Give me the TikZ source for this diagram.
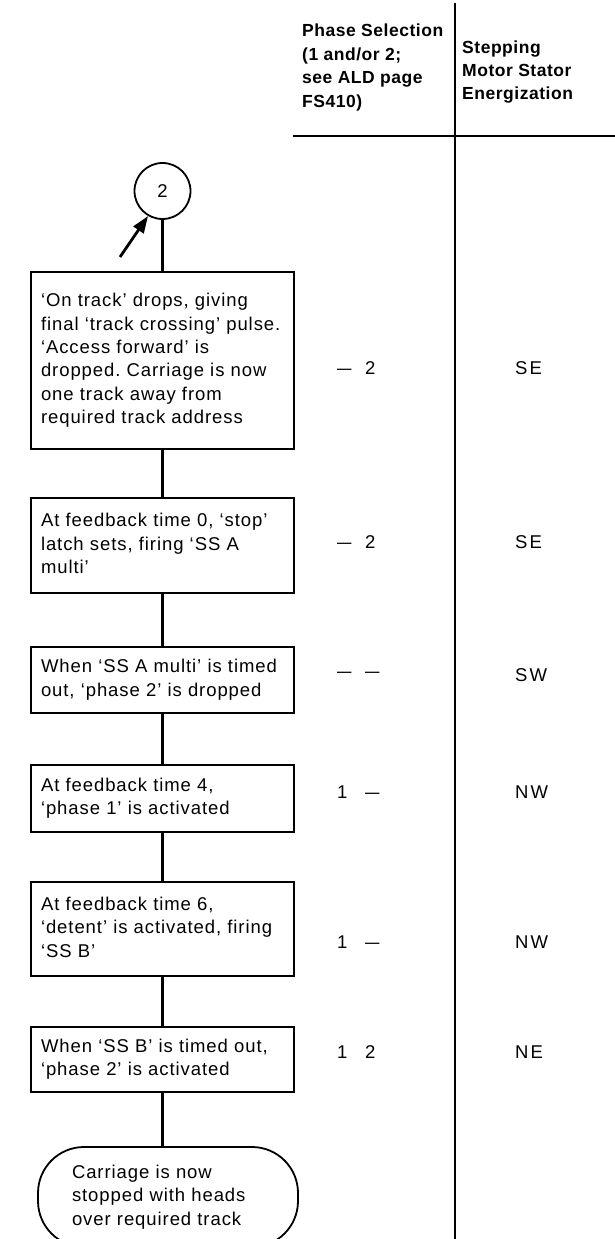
\documentclass[tikz,border=0pt]{standalone}
\usepackage{fontspec}
\setmainfont{Liberation Sans}[LetterSpace=5]
\newfontfamily\headfont{Liberation Sans}[LetterSpace=3]
\usetikzlibrary{arrows.meta}
\frenchspacing
\newcommand{\boxlines}[1]{\begin{tabular}[t]{@{}l@{}}#1\end{tabular}}
\newcommand{\pcol}[2]{\makebox[28pt][l]{#1}#2}
\newcommand{\dsh}{\scalebox{1.4}[1]{–}}
\begin{document}
\begin{tikzpicture}[x=1pt,y=-1pt,
  every node/.style={font=\fontsize{18.5}{23.4}\selectfont, inner sep=0pt},
  stepbox/.style={draw, line width=1.8pt, minimum width=263pt, text width=243pt, align=left, inner xsep=10pt},
  termbox/.style={draw, line width=1.8pt, rounded corners=46pt, minimum width=260pt, minimum height=100pt, text width=192pt, inner xsep=34pt, align=left},
  conn/.style={line width=2.8pt},
  rulel/.style={line width=1.5pt},
  val/.style={anchor=west, font=\fontsize{18.5}{20}\selectfont},
  head/.style={anchor=base west, font=\fontsize{17.5}{23.4}\selectfont\headfont\bfseries}
]
\clip (0,0) rectangle (615,1239);
\useasboundingbox (0,0) rectangle (615,1239);

% header
\node[head] (h1) at (302,37) {\boxlines{Phase Selection\\(1 and/or 2;\\see ALD page\\FS410)}};
\node[head] (h2) at (462,53) {\boxlines{Stepping\\Motor Stator\\Energization}};
\draw[rulel] (455,3) -- (455,1239);
\draw[line width=1.8pt] (293,136) -- (615,136);

% connector circle
\node[draw, circle, line width=1.8pt, minimum size=56pt] (c) at (162.5,191) {2};
\coordinate (tail) at (120,257);
\draw[conn, -{Triangle[length=17pt,width=12pt]}] (tail) -- (c.-120);

% boxes
\node[stepbox, minimum height=177pt] (b1) at (162.5,360.5) {\boxlines{‘On track’ drops, giving\\final ‘track crossing’ pulse.\\‘Access forward’ is\\dropped. Carriage is now\\one track away from\\required track address}};
\node[stepbox, minimum height=95pt] (b2) at (162.5,545.5) {\boxlines{At feedback time 0, ‘stop’\\latch sets, firing ‘SS A\\multi’}};
\node[stepbox, minimum height=66pt] (b3) at (162.5,680) {\boxlines{When ‘SS A multi’ is timed\\out, ‘phase 2’ is dropped}};
\node[stepbox, minimum height=67pt] (b4) at (162.5,798.5) {\boxlines{At feedback time 4,\\‘phase 1’ is activated}};
\node[stepbox, minimum height=94pt] (b5) at (162.5,929) {\boxlines{At feedback time 6,\\‘detent’ is activated, firing\\‘SS B’}};
\node[stepbox, minimum height=65pt] (b6) at (162.5,1059.5) {\boxlines{When ‘SS B’ is timed out,\\‘phase 2’ is activated}};
\node[termbox] (t) at (168,1197) {\boxlines{Carriage is now\\stopped with heads\\over required track}};

\draw[conn] (c.south) -- (b1.north);
\draw[conn] (b1.south) -- (b2.north);
\draw[conn] (b2.south) -- (b3.north);
\draw[conn] (b3.south) -- (b4.north);
\draw[conn] (b4.south) -- (b5.north);
\draw[conn] (b5.south) -- (b6.north);
\draw[conn] (b6.south) -- (b6.south |- t.north);

% phase selection column
\node[val] (p1) at (337,368) {\pcol{\dsh}{2}};
\node[val] (p2) at (337,542) {\pcol{\dsh}{2}};
\node[val] (p3) at (337,675) {\pcol{\dsh}{\dsh}};
\node[val] (p4) at (337,792) {\pcol{1}{\dsh}};
\node[val] (p5) at (337,942) {\pcol{1}{\dsh}};
\node[val] (p6) at (337,1052) {\pcol{1}{2}};

% stator column
\node[val] (s1) at (515,368) {S\kern2pt E};
\node[val] (s2) at (515,542) {S\kern2pt E};
\node[val] (s3) at (515,675) {S\kern2pt W};
\node[val] (s4) at (515,792) {N\kern2pt W};
\node[val] (s5) at (515,942) {N\kern2pt W};
\node[val] (s6) at (515,1052) {N\kern2pt E};
\end{tikzpicture}
\end{document}
